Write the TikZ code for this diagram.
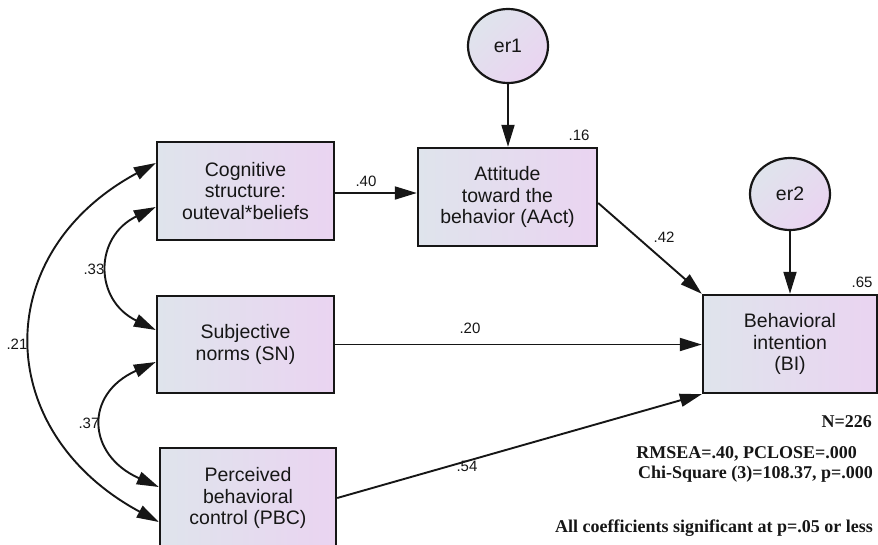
\documentclass[tikz,border=0pt]{standalone}
\usepackage{fontspec}
\setmainfont{Liberation Sans}
\newfontfamily\timesfont{Liberation Serif}
\usetikzlibrary{shapes.geometric,arrows.meta,calc}
\definecolor{boxL}{HTML}{DFE4EC}
\definecolor{boxR}{HTML}{EAD4F1}
\definecolor{ink}{HTML}{161616}
\begin{document}
\begin{tikzpicture}[x=1pt,y=-1pt,
  varbox/.style={draw=ink,line width=2.4pt,rectangle,left color=boxL,right color=boxR,
    align=center,font=\fontsize{19.5}{21.5}\selectfont,text=ink,inner sep=0pt},
  errc/.style={draw=ink,line width=2.2pt,ellipse,minimum width=80pt,minimum height=74pt,
    inner sep=0pt,top color=boxL,bottom color=boxR,shading angle=45,
    font=\fontsize{19.5}{21.5}\selectfont,text=ink},
  conn/.style={draw=ink,line width=1.9pt,-{Triangle[length=22pt,width=13pt]}},
  cov/.style={draw=ink,line width=1.9pt,{Triangle[length=22pt,width=13pt]}-{Triangle[length=22pt,width=13pt]}},
  coef/.style={font=\fontsize{15}{15}\selectfont,text=ink,inner sep=0pt},
  fit/.style={font=\timesfont\bfseries\fontsize{18}{18}\selectfont,text=ink,inner sep=0pt,anchor=east}
]
\useasboundingbox (0,0) rectangle (878,544);

\node[varbox,minimum width=177pt,minimum height=98pt] (cog) at (245.5,191) {Cognitive\\structure:\\outeval*beliefs};
\node[varbox,minimum width=179pt,minimum height=98pt] (att) at (507.5,197) {Attitude\\toward the\\behavior (AAct)};
\node[varbox,minimum width=177pt,minimum height=97pt] (sn) at (245.5,344.5) {Subjective\\norms (SN)};
\node[varbox,minimum width=176pt,minimum height=100pt] (pbc) at (248,498) {Perceived\\behavioral\\control (PBC)};
\node[varbox,minimum width=174pt,minimum height=98pt] (bi) at (790,344) {Behavioral\\intention\\(BI)};
\node[errc] (er1) at (508,46) {er1};
\node[errc,minimum height=72pt] (er2) at (790,194) {er2};

\draw[conn] ([yshift=-2pt]cog.east) -- ([yshift=-2pt]cog.east -| att.west);
\draw[conn] (er1.south) -- (er1.south |- att.north);
\draw[conn] (er2.south) -- (er2.south |- bi.north);
\draw[conn] ([yshift=-6pt]att.east) -- (bi.north west);
\draw[conn] (sn.east) -- (sn.east -| bi.west);
\draw[conn] (pbc.east) -- (bi.south west);

\draw[cov] ([yshift=-16pt]cog.west) .. controls +(-62,30) and +(-62,-30) .. ([yshift=14.5pt]sn.west);
\draw[cov] ([yshift=-17.5pt]sn.west) .. controls +(-72,32) and +(-72,-32) .. ([yshift=11pt]pbc.west);
\draw[cov] ([yshift=28pt]cog.west) .. controls +(-167,90) and +(-167,-90) .. ([yshift=-24pt]pbc.west);

\node[coef] (c40) at (366,181) {.40};
\node[coef] (c33) at (94,269) {.33};
\node[coef] (c37) at (89,423) {.37};
\node[coef] (c21) at (17,344) {.21};
\node[coef] (c20) at (470,328) {.20};
\node[coef] (c54) at (467,466) {.54};
\node[coef] (c42) at (664,237) {.42};
\node[coef] (c16) at (579,135) {.16};
\node[coef] (c65) at (862,282) {.65};

\node[fit] (n) at (872,422) {N=226};
\node[fit] (rm) at (857,454) {RMSEA=.40, PCLOSE=.000};
\node[fit] (chi) at (873,474) {Chi-Square (3)=108.37, p=.000};
\node[fit] (all) at (873,528) {All coefficients significant at p=.05 or less};
\end{tikzpicture}
\end{document}
